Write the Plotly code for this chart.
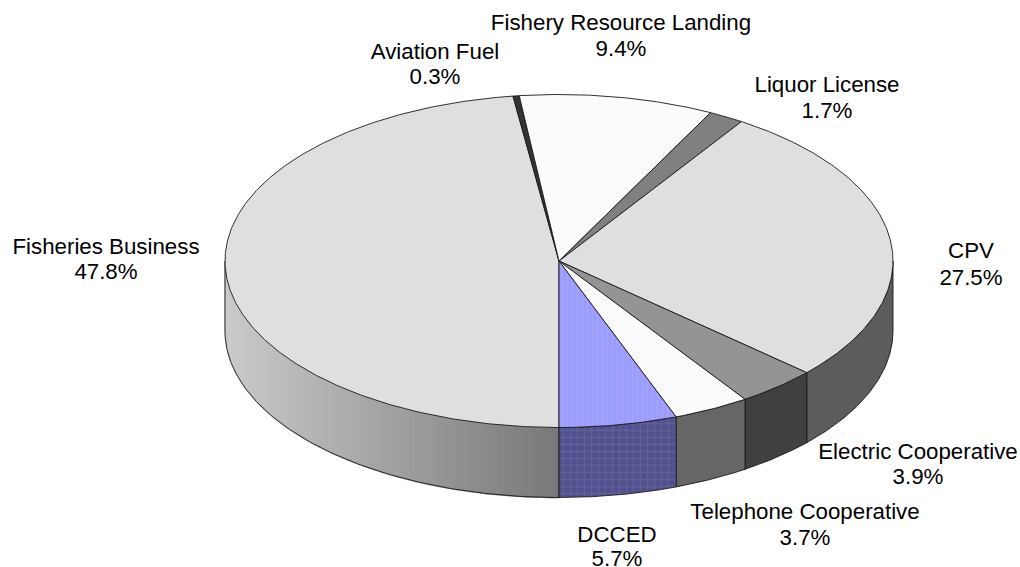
import numpy as np
import plotly.graph_objects as go

CATEGORIES = ["Fisheries Business", "Aviation Fuel", "Fishery Resource Landing", "Liquor License",
              "CPV", "Electric Cooperative", "Telephone Cooperative", "DCCED"]
VALUES = [47.8, 0.3, 9.4, 1.7, 27.5, 3.9, 3.7, 5.7]

TOP_COLORS = ["#dfdfdf", "#333333", "#fbfbfb", "#808080", "#dfdfdf", "#949494", "#fbfbfb", "#9c9cff"]
SIDE_COLORS = [None, None, None, None, "#5c5c5c", "#404040", "#666666", "#50508f"]
LABEL_X = [106, 435, 621, 827, 971, 918, 805, 617]
NAME_Y = [248, 53, 24, 86, 252, 453, 513, 536]
PCT_Y = [273, 78, 50, 112, 279, 478, 539, 560]

CX, CY, RX, RY, DEPTH = 559, 261, 334, 166.5, 70
W, H = 1020, 567
EDGE = "#1a1a1a"


def ex(t):
    return CX - RX * np.sin(t)


def ey(t):
    return CY + RY * np.cos(t)


fig = go.Figure()


def poly(xs, ys, fill, line=EDGE, width=0.9, pattern=None):
    fig.add_trace(go.Scatter(x=list(xs), y=list(ys), mode="lines", fill="toself", fillcolor=fill,
                             line=dict(color=line, width=width), fillpattern=pattern,
                             hoverinfo="skip", showlegend=False))


def side(t0, t1, fill, line=EDGE, width=0.9, pattern=None):
    t = np.linspace(t0, t1, max(2, int(abs(t1 - t0) * 120)))
    xs = np.r_[ex(t), ex(t[::-1]), ex(t[0])]
    ys = np.r_[ey(t), ey(t[::-1]) + DEPTH, ey(t[0])]
    poly(xs, ys, fill, line, width, pattern)


edges = np.r_[0, np.cumsum(VALUES)] / sum(VALUES) * 2 * np.pi

for i, (a, b) in enumerate(zip(edges[:-1], edges[1:])):
    if i == 0:
        lo, hi = a, min(b, np.pi / 2)
        n = 60
        # strips are even in x so that the shade runs smoothly left to right
        ts = np.arcsin(np.linspace(np.sin(lo), np.sin(hi), n + 1))
        for k in range(n):
            f = np.sin(ts[k]) + 0.5 / n
            g = int(round(0x78 + (0xca - 0x78) * f))
            c = f"rgb({g},{g},{g})"
            side(ts[k], ts[k + 1], c, line=c, width=1.5)
        t = np.linspace(lo, hi, 120)
        fig.add_trace(go.Scatter(x=np.r_[ex(t[0]), ex(t), ex(t[-1])],
                                 y=np.r_[ey(t[0]), ey(t) + DEPTH, ey(t[-1])],
                                 mode="lines", line=dict(color=EDGE, width=0.9),
                                 hoverinfo="skip", showlegend=False))
    elif SIDE_COLORS[i]:
        lo = max(a, 1.5 * np.pi)
        pat = None
        if CATEGORIES[i] == "DCCED":
            pat = dict(shape="+", size=7, solidity=0.35, fgcolor="#6f6f9f", bgcolor=SIDE_COLORS[i])
        side(lo, b, SIDE_COLORS[i], pattern=pat)

for i, (a, b) in enumerate(zip(edges[:-1], edges[1:])):
    t = np.linspace(a, b, max(3, int((b - a) * 120)))
    xs = np.r_[CX, ex(t), CX]
    ys = np.r_[CY, ey(t), CY]
    pat = None
    if CATEGORIES[i] == "DCCED":
        pat = dict(shape="|", size=5, solidity=0.3, fgcolor="#aeaeff", bgcolor=TOP_COLORS[i])
    poly(xs, ys, TOP_COLORS[i], pattern=pat)

FONT = dict(family="Liberation Sans", size=22.3, color="#000000")
fig.add_trace(go.Scatter(x=LABEL_X, y=NAME_Y, mode="text", text=CATEGORIES, textposition="middle center",
                         textfont=FONT, hoverinfo="skip", showlegend=False, cliponaxis=False))
fig.add_trace(go.Scatter(x=LABEL_X, y=PCT_Y, mode="text", text=[f"{v:.1f}%" for v in VALUES],
                         textposition="middle center", textfont=FONT,
                         hoverinfo="skip", showlegend=False, cliponaxis=False))

fig.update_layout(width=W, height=H, margin=dict(l=0, r=0, t=0, b=0),
                  paper_bgcolor="white", plot_bgcolor="white", showlegend=False,
                  xaxis=dict(range=[0, W], visible=False, fixedrange=True),
                  yaxis=dict(range=[H, 0], visible=False, fixedrange=True))
fig.write_html("out.html", config={"displayModeBar": False},
               post_script="document.body.style.margin='0';document.body.style.overflow='hidden';")
